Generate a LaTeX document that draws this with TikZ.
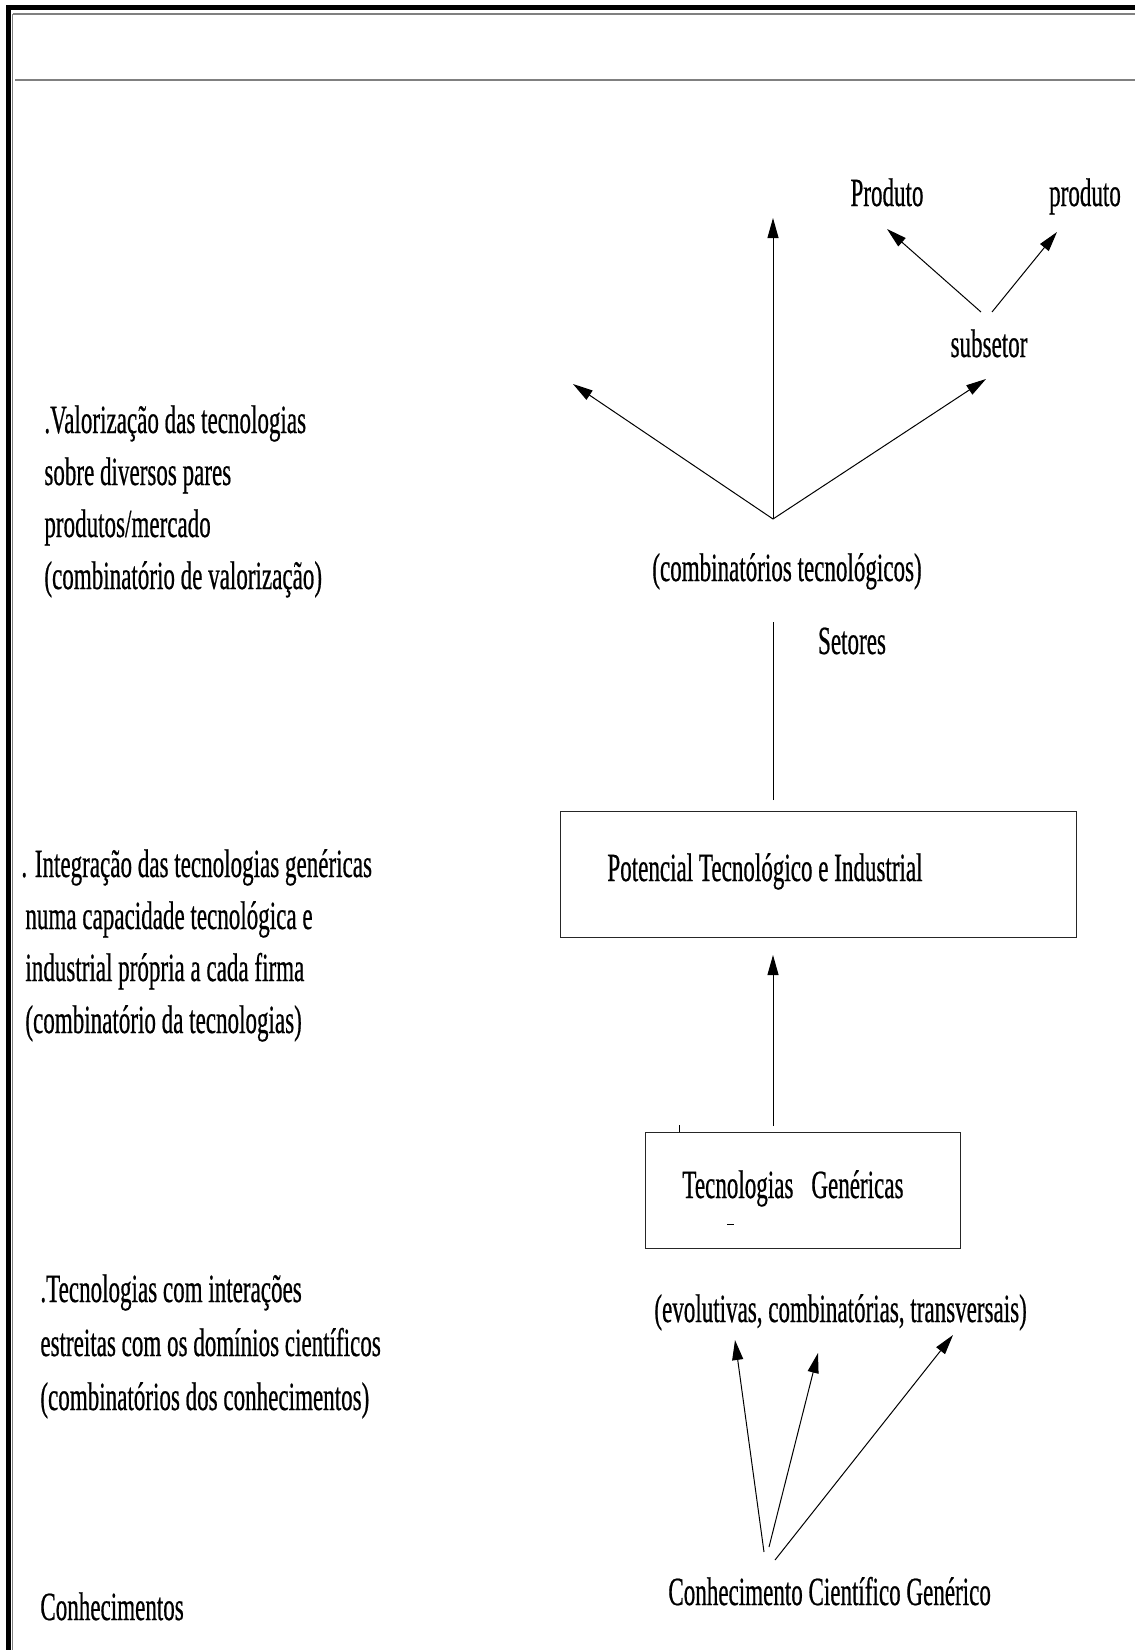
\documentclass[tikz,border=0pt]{standalone}
\usepackage{fontspec}
\setmainfont{Liberation Serif}[FakeStretch=0.576,FakeBold=0.5]
\usetikzlibrary{arrows.meta}
\begin{document}
\begin{tikzpicture}[x=0.5pt,y=-0.5pt,
  lbl/.style={inner sep=0pt, font=\fontsize{20pt}{26pt}\selectfont},
  blk/.style={lbl, anchor=base west},
  ctr/.style={lbl, anchor=base},
  box/.style={draw=black!85, line width=0.5pt, inner sep=0pt, anchor=north west},
  conn/.style={line width=0.5pt},
  arr/.style={conn, -{Triangle[length=10pt,width=5.5pt]}},
  frame/.style={line width=2.5pt, black},
  inset/.style={line width=0.8pt, gray},
]
\useasboundingbox (0,0) rectangle (1135,1650);

% page frame and header rule
\draw[frame] (6,7.5) -- (1135,7.5);
\draw[frame] (8.5,5) -- (8.5,1650);
\draw[inset] (12.5,14) -- (1135,14);
\draw[inset] (12.5,14) -- (12.5,1650);
\draw[inset, line width=1.1pt] (15,80) -- (1135,80);

% left-hand descriptions
\node[blk] (val) at (44,433) {\begin{tabular}[t]{@{}l@{}}.Valorização das tecnologias\\ sobre diversos pares\\ produtos/mercado\\ (combinatório de valorização)\end{tabular}};
\node[blk] (integ) at (21,877) {\begin{tabular}[t]{@{}l@{}}. Integração das tecnologias genéricas\\ \hspace*{2pt}numa capacidade tecnológica e\\ \hspace*{2pt}industrial própria a cada firma\\ \hspace*{2pt}(combinatório da tecnologias)\end{tabular}};
\node[blk, font=\fontsize{20pt}{27pt}\selectfont] (inter) at (40,1302) {\begin{tabular}[t]{@{}l@{}}.Tecnologias com interações\\ estreitas com os domínios científicos\\ (combinatórios dos conhecimentos)\end{tabular}};
\node[blk] (conh) at (40,1620) {Conhecimentos};

% right-hand chain
\node[ctr] (prodA) at (887,206) {Produto};
\node[ctr] (prodB) at (1085,206) {produto};
\node[ctr] (sub) at (989,357) {subsetor};
\node[ctr] (comb) at (787,581) {(combinatórios tecnológicos)};
\node[ctr] (set) at (852,654) {Setores};
\node[box, minimum width=258pt, minimum height=63pt] (pot) at (560,811) {};
\node[blk] (potTxt) at (607,881) {Potencial Tecnológico e Industrial};
\node[box, minimum width=157.5pt, minimum height=58pt] (tg) at (645,1132) {};
\node[blk] (tgTxt) at (682,1198) {Tecnologias\hspace{0.45em}Genéricas};
\node[blk] (evo) at (654,1322) {(evolutivas, combinatórias, transversais)};
\node[blk] (ccg) at (668,1605) {Conhecimento Científico Genérico};

% connector end points
\coordinate (hub) at (773,519);
\coordinate (tL) at (573,384);
\coordinate (tU) at (773,218);
\coordinate (tR) at (986,379);
\coordinate (sA) at (981,312);
\coordinate (sB) at (992,312);
\coordinate (pA) at (887,229);
\coordinate (pB) at (1057,232);
\coordinate (potTop) at (773,800);
\coordinate (combBot) at (773,622);
\coordinate (tgTop) at (773,1126);
\coordinate (potBot) at (773,955);
\coordinate (c1) at (764,1552);
\coordinate (c2) at (769,1547);
\coordinate (c3) at (775,1560);
\coordinate (e1) at (735,1340);
\coordinate (e2) at (818,1353);
\coordinate (e3) at (953,1335);

% connectors
\draw[arr] (hub) -- (tL);
\draw[arr] (hub) -- (tU);
\draw[arr] (hub) -- (tR);
\draw[arr] (sA) -- (pA);
\draw[arr] (sB) -- (pB);
\draw[conn] (potTop) -- (combBot);
\draw[arr] (tgTop) -- (potBot);

% small stray marks on the generic-technologies box
\draw[conn] (tg.north west) ++(34,0) -- ++(0,-7);
\draw[conn] (tg.north west) ++(82,92) -- ++(7,0);

\draw[arr] (c1) -- (e1);
\draw[arr] (c2) -- (e2);
\draw[arr] (c3) -- (e3);
\end{tikzpicture}
\end{document}
